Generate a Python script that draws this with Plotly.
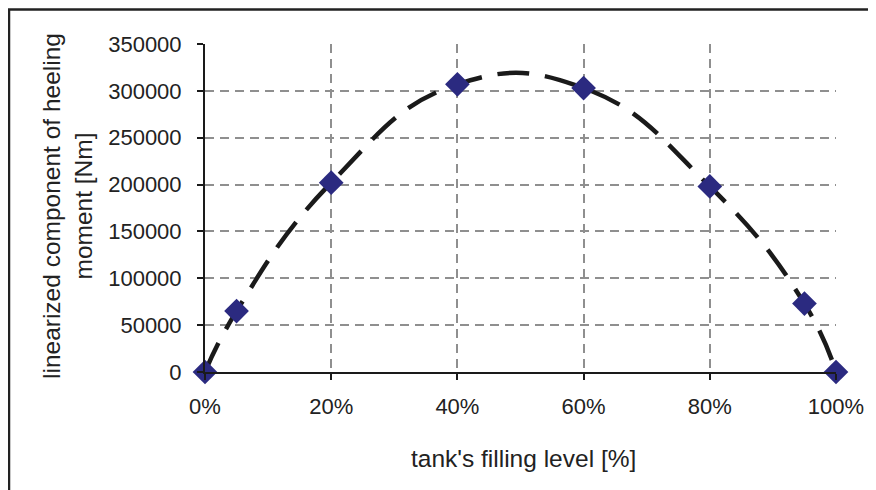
import plotly.graph_objects as go

fill_level = [0.0, 0.05, 0.20, 0.40, 0.60, 0.80, 0.95, 1.00]
moment = [0, 65000, 202000, 307000, 303000, 198000, 73000, 0]
y_ticks = [0, 50000, 100000, 150000, 200000, 250000, 300000, 350000]
x_ticks = [0.0, 0.2, 0.4, 0.6, 0.8, 1.0]

FONT = "Liberation Sans, Arial, sans-serif"

fig = go.Figure()
fig.add_trace(go.Scatter(
    x=fill_level, y=moment, mode="lines",
    line=dict(color="#1a1a1a", width=4.5, shape="spline", smoothing=1.3, dash="32px,16px"),
    hoverinfo="skip", cliponaxis=False, showlegend=False,
))
fig.add_trace(go.Scatter(
    x=fill_level, y=moment, mode="markers",
    marker=dict(symbol="diamond", size=19, color="#2B2A80"),
    cliponaxis=False, showlegend=False,
))

# page is offset by the 8px body margin
OFF = 8
L, T, W, H = 205 - OFF, 44 - OFF, 631, 328
def px(x):
    return (x - OFF - L) / W
def py(y):
    return (T + H - (y - OFF)) / H

fig.update_layout(
    width=876, height=490,
    margin=dict(l=L, r=876 - L - W, t=T, b=490 - T - H),
    paper_bgcolor="white", plot_bgcolor="white",
    font=dict(family=FONT, size=22, color="#222222"),
    xaxis=dict(
        range=[0, 1], tickvals=x_ticks, tickformat=".0%",
        showline=True, linecolor="#1a1a1a", linewidth=2,
        ticks="outside", ticklen=6, tickcolor="#1a1a1a", tickwidth=2,
        showgrid=True, gridcolor="#8f8f8f", gridwidth=2, griddash="9px,6px",
        zeroline=False, ticklabelstandoff=8,
    ),
    yaxis=dict(
        range=[0, 350000], tickvals=y_ticks, tickformat="d",
        showline=True, linecolor="#1a1a1a", linewidth=2,
        ticks="outside", ticklen=6, tickcolor="#1a1a1a", tickwidth=2,
        showgrid=True, gridcolor="#8f8f8f", gridwidth=2, griddash="9px,6px",
        zeroline=False, ticklabelstandoff=11,
    ),
    annotations=[
        dict(text="linearized component of heeling<br>moment [Nm]", textangle=-90,
             xref="paper", yref="paper", x=px(67), y=py(206), showarrow=False,
             xanchor="center", yanchor="middle", font=dict(size=24.5)),
        dict(text="tank's filling level [%]",
             xref="paper", yref="paper", x=px(523), y=py(458), showarrow=False,
             xanchor="center", yanchor="middle", font=dict(size=24.5)),
    ],
    shapes=[
        dict(type="rect", xref="paper", yref="paper",
             x0=px(9), x1=px(900), y0=py(510), y1=py(9.5),
             line=dict(color="#222222", width=2.5), fillcolor="rgba(0,0,0,0)", layer="above"),
    ],
)

fig.write_html("out.html")
